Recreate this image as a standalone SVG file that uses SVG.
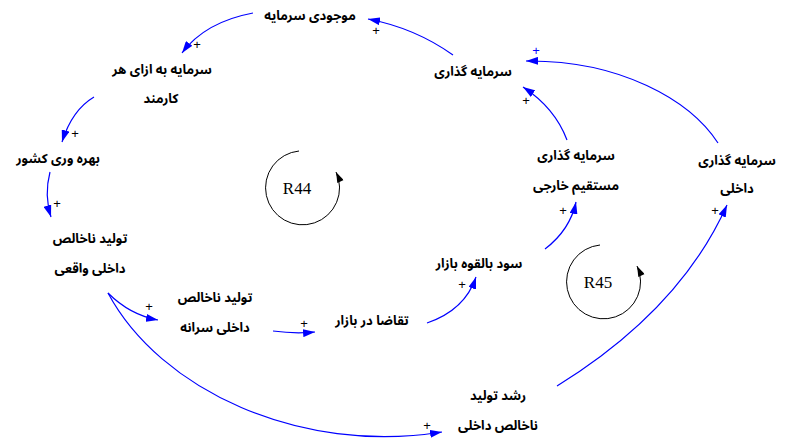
<svg xmlns="http://www.w3.org/2000/svg" width="785" height="443" viewBox="0 0 785 443">
<style>
.lbl{font-family:"Noto Sans Arabic","Noto Sans Arabic UI","DejaVu Sans",sans-serif;font-weight:bold;font-size:13px;fill:#000;text-anchor:middle}
.pl{font-family:"Liberation Sans",sans-serif;font-size:13px;fill:#000;text-anchor:middle}
.lp{fill:none;stroke:#0000ff;stroke-width:1.2;marker-end:url(#ah)}
.loop{fill:none;stroke:#000;stroke-width:1;marker-end:url(#lh)}
.lt{font-family:"Liberation Serif",serif;font-size:17px;fill:#000;text-anchor:middle}
</style>
<defs>
<marker id="ah" viewBox="0 0 12 8" refX="12" refY="4" markerWidth="12" markerHeight="8" markerUnits="userSpaceOnUse" orient="auto">
<path d="M0,0 L12,4 L0,8 Z" fill="#0000ff"/>
</marker>
<marker id="lh" viewBox="0 0 12 8" refX="12" refY="4" markerWidth="12" markerHeight="7" markerUnits="userSpaceOnUse" orient="auto">
<path d="M0,0 L12,4 L0,8 Z" fill="#000"/>
</marker>
</defs>
<rect width="785" height="443" fill="#fff"/>
<g id="connectors">
<path class="lp" d="M453,55 Q415,28 368,19"/>
<path class="lp" d="M253,13 Q205,22 182,53"/>
<path class="lp" d="M94,97 Q72,110 62,142"/>
<path class="lp" d="M50,172 Q44,195 51,217"/>
<path class="lp" d="M108,293 Q130,315 158,320"/>
<path class="lp" d="M273,331 Q295,334 315,332"/>
<path class="lp" d="M427,323 Q465,310 476,277"/>
<path class="lp" d="M545,249 Q570,230 576,202"/>
<path class="lp" d="M567,140 Q555,108 523,87"/>
<path class="lp" d="M718,143 C690,100 620,60 526,61"/>
<path class="lp" d="M557,386 Q680,310 727,205"/>
<path class="lp" d="M108,293 C160,390 300,455 442,432"/>
<text class="pl" x="376" y="35">+</text>
<text class="pl" x="197" y="49">+</text>
<text class="pl" x="75" y="138">+</text>
<text class="pl" x="57" y="208">+</text>
<text class="pl" x="149" y="311">+</text>
<text class="pl" x="304" y="328">+</text>
<text class="pl" x="462" y="289">+</text>
<text class="pl" x="563" y="215">+</text>
<text class="pl" x="526" y="105">+</text>
<text class="pl" x="536" y="55" style="fill:#0000ff">+</text>
<text class="pl" x="715" y="215">+</text>
<text class="pl" x="427" y="430">+</text>
</g>
<g id="loop-R44">
<path class="loop" d="M299,151 A37,37 0 1 0 336,172"/>
<text class="lt" x="297" y="194">R44</text>
</g>
<g id="loop-R45">
<path class="loop" d="M600,245 A37,37 0 1 0 637,266"/>
<text class="lt" x="598" y="288">R45</text>
</g>
<g id="n-mojoodi"><text class="lbl" x="310" y="20">موجودی سرمایه</text></g>
<g id="n-sarmaye-karmand"><text class="lbl" x="162" y="74">سرمایه به ازای هر</text><text class="lbl" x="161" y="103">کارمند</text></g>
<g id="n-bahrevari"><text class="lbl" x="58" y="163">بهره وری کشور</text></g>
<g id="n-gdp-vaghei"><text class="lbl" x="90" y="243">تولید ناخالص</text><text class="lbl" x="90" y="273">داخلی واقعی</text></g>
<g id="n-gdp-sarane"><text class="lbl" x="215" y="302">تولید ناخالص</text><text class="lbl" x="215" y="332">داخلی سرانه</text></g>
<g id="n-taghaza"><text class="lbl" x="372" y="325">تقاضا در بازار</text></g>
<g id="n-sood"><text class="lbl" x="479" y="268">سود بالقوه بازار</text></g>
<g id="n-sarmayegozari"><text class="lbl" x="473" y="76">سرمایه گذاری</text></g>
<g id="n-fdi"><text class="lbl" x="576" y="160">سرمایه گذاری</text><text class="lbl" x="576" y="190">مستقیم خارجی</text></g>
<g id="n-dakheli"><text class="lbl" x="737" y="165">سرمایه گذاری</text><text class="lbl" x="737" y="193">داخلی</text></g>
<g id="n-roshd"><text class="lbl" x="498" y="400">رشد تولید</text><text class="lbl" x="498" y="430">ناخالص داخلی</text></g>
</svg>
